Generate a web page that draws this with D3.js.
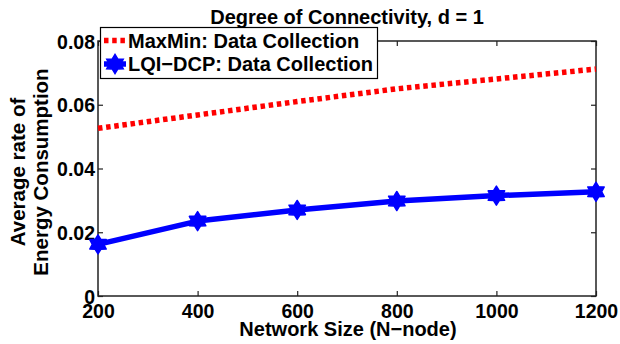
<!DOCTYPE html>
<html><head><meta charset="utf-8">
<script src="https://cdn.jsdelivr.net/npm/d3@7"></script>
<style>body{margin:0;background:#fff}text{font-family:"Liberation Sans",Arial,sans-serif;font-weight:bold;fill:#000}</style>
</head><body>
<script>
const networkSizes = [200, 400, 600, 800, 1000, 1200];
const maxMinValues = [0.0526, 0.0568, 0.0610, 0.0650, 0.0681, 0.0712];
const lqiValues = [0.0162, 0.0235, 0.0270, 0.0298, 0.0315, 0.0327];
const xTicks = [200, 400, 600, 800, 1000, 1200];
const yTicks = [0, 0.02, 0.04, 0.06, 0.08];
const seriesNames = ["MaxMin: Data Collection", "LQI\u2212DCP: Data Collection"];

const W = 620, H = 344;
const L = 98, R = 596, T = 41, B = 296;
const svg = d3.select("body").append("svg").attr("width", W).attr("height", H);
const x = d3.scaleLinear().domain([200, 1200]).range([L, R]);
const y = d3.scaleLinear().domain([0, 0.08]).range([B, T]);

const fmtY = d => d === 0 ? "0" : d3.format(".2f")(d);

const ax = svg.append("g").attr("transform", `translate(0,${B})`)
  .call(d3.axisBottom(x).tickValues(xTicks).tickSize(-5).tickFormat(d3.format("d")));
const axTop = svg.append("g").attr("transform", `translate(0,${T})`)
  .call(d3.axisTop(x).tickValues(xTicks).tickSize(-5).tickFormat(""));
const ay = svg.append("g").attr("transform", `translate(${L},0)`)
  .call(d3.axisLeft(y).tickValues(yTicks).tickSize(-5).tickFormat(fmtY));
const ayR = svg.append("g").attr("transform", `translate(${R},0)`)
  .call(d3.axisRight(y).tickValues(yTicks).tickSize(-5).tickFormat(""));
[ax, axTop, ay, ayR].forEach(g => {
  g.select(".domain").remove();
  g.selectAll("line").attr("stroke", "#222").attr("stroke-width", 1.2);
  g.selectAll("text").style("font-size", "19.5px").style("font-weight", "bold").attr("fill", "#000");
});
ax.selectAll("text").attr("y", 22).attr("dy", "0");
ay.selectAll("text").attr("x", -3).attr("dy", "0.36em");

// frame
svg.append("rect").attr("x", L).attr("y", T).attr("width", R - L).attr("height", B - T)
  .attr("fill", "none").attr("stroke", "#222").attr("stroke-width", 1.5);

// lines
const line = d3.line().x((d, i) => x(networkSizes[i])).y(d => y(d));
svg.append("path").datum(maxMinValues).attr("d", line).attr("fill", "none")
  .attr("stroke", "#ff0000").attr("stroke-width", 5.5).attr("stroke-dasharray", "4.5,3.7");
svg.append("path").datum(lqiValues).attr("d", line).attr("fill", "none")
  .attr("stroke", "#0000ff").attr("stroke-width", 5.5).attr("stroke-linejoin", "round");

// hexagram marker
function hexagram(r) {
  const pts = [];
  for (let i = 0; i < 12; i++) {
    const a = Math.PI / 6 * i - Math.PI / 2;
    const rr = i % 2 === 0 ? r : r * 0.6;
    pts.push([rr * Math.cos(a), rr * Math.sin(a)]);
  }
  return "M" + pts.map(p => p.map(v => v.toFixed(2)).join(",")).join("L") + "Z";
}
svg.append("g").selectAll("path").data(lqiValues).join("path")
  .attr("d", hexagram(9.5))
  .attr("transform", (d, i) => `translate(${x(networkSizes[i])},${y(d)})`)
  .attr("fill", "#0000ff").attr("stroke", "#0000ff").attr("stroke-width", 1.5).attr("stroke-linejoin", "round");

// title
svg.append("text").attr("x", 347).attr("y", 24).attr("text-anchor", "middle")
  .style("font-size", "20px").text("Degree of Connectivity, d = 1");
// x label
svg.append("text").attr("x", 348).attr("y", 336).attr("text-anchor", "middle")
  .style("font-size", "20px").text("Network Size (N\u2212node)");
// y label
const yl = svg.append("text").attr("transform", "translate(0,172) rotate(-90)").attr("text-anchor", "middle")
  .style("font-size", "20.5px");
yl.append("tspan").attr("x", 0).attr("y", 25).text("Average rate of");
yl.append("tspan").attr("x", 0).attr("y", 48).text("Energy Consumption");

// legend
const lg = svg.append("g");
lg.append("rect").attr("x", 100.5).attr("y", 27.5).attr("width", 277).attr("height", 51)
  .attr("fill", "#fff").attr("stroke", "#000").attr("stroke-width", 1.2);
lg.append("line").attr("x1", 104).attr("x2", 126).attr("y1", 40.5).attr("y2", 40.5)
  .attr("stroke", "#ff0000").attr("stroke-width", 5.5).attr("stroke-dasharray", "4.5,3.7");
lg.append("line").attr("x1", 104).attr("x2", 126).attr("y1", 64).attr("y2", 64)
  .attr("stroke", "#0000ff").attr("stroke-width", 5.5);
lg.append("path").attr("d", hexagram(9.5)).attr("transform", "translate(115,64)")
  .attr("fill", "#0000ff").attr("stroke", "#0000ff").attr("stroke-width", 1.5);
lg.selectAll("text.lt").data(seriesNames).join("text").attr("class", "lt")
  .attr("x", 128).attr("y", (d, i) => 48 + i * 23).style("font-size", "20px").text(d => d);
</script>
</body></html>
